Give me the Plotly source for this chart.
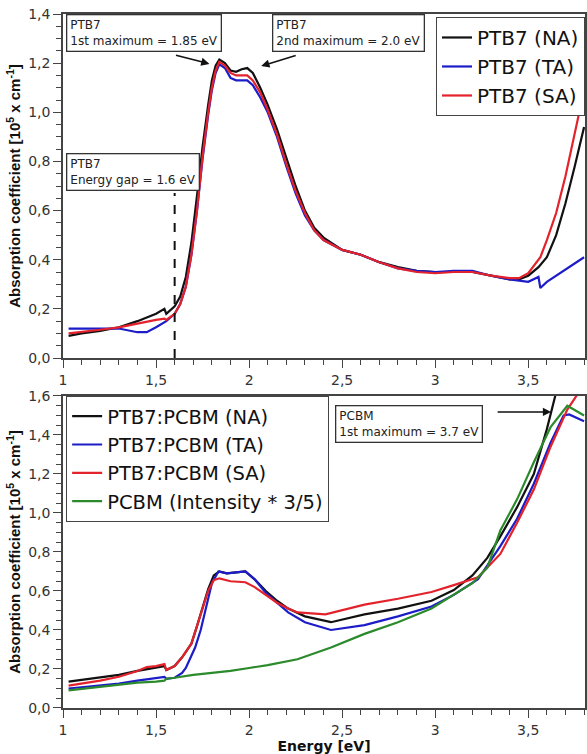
import plotly.graph_objects as go

# ---------------- Top panel: PTB7 films ----------------
E_top = [1.03, 1.1, 1.2, 1.3, 1.4, 1.45, 1.5, 1.545, 1.555, 1.6, 1.63, 1.66, 1.69, 1.72, 1.75,
         1.78, 1.8, 1.82, 1.84, 1.87, 1.9, 1.93, 1.96, 1.99, 2.02, 2.06, 2.1, 2.15, 2.2, 2.25,
         2.3, 2.35, 2.4, 2.5, 2.6, 2.7, 2.8, 2.9, 3.0, 3.1, 3.2, 3.3, 3.4, 3.45, 3.5, 3.555,
         3.565, 3.6, 3.65, 3.7, 3.75, 3.8]

ptb7_na = [0.09, 0.10, 0.11, 0.125, 0.15, 0.165, 0.18, 0.20, 0.18, 0.21, 0.25, 0.33, 0.47, 0.66, 0.86,
           1.03, 1.13, 1.19, 1.215, 1.20, 1.17, 1.165, 1.175, 1.18, 1.16, 1.10, 1.03, 0.93, 0.81, 0.70,
           0.60, 0.53, 0.49, 0.44, 0.42, 0.39, 0.37, 0.355, 0.35, 0.35, 0.35, 0.335, 0.32, 0.32, 0.335, 0.37,
           0.38, 0.41, 0.50, 0.63, 0.78, 0.94]

ptb7_ta = [0.12, 0.12, 0.12, 0.12, 0.105, 0.105, 0.125, 0.145, 0.15, 0.18, 0.22, 0.29, 0.42, 0.60, 0.81,
           0.99, 1.09, 1.16, 1.195, 1.18, 1.14, 1.13, 1.13, 1.13, 1.11, 1.06, 1.00, 0.90, 0.78, 0.67,
           0.58, 0.52, 0.48, 0.44, 0.42, 0.39, 0.365, 0.355, 0.35, 0.355, 0.355, 0.335, 0.32, 0.315, 0.31, 0.33,
           0.285, 0.31, 0.335, 0.36, 0.385, 0.41]

ptb7_sa = [0.10, 0.105, 0.115, 0.125, 0.14, 0.15, 0.155, 0.16, 0.155, 0.18, 0.22, 0.29, 0.42, 0.60, 0.82,
           1.00, 1.10, 1.17, 1.205, 1.19, 1.16, 1.15, 1.15, 1.15, 1.13, 1.08, 1.01, 0.91, 0.79, 0.68,
           0.59, 0.52, 0.48, 0.44, 0.42, 0.39, 0.365, 0.35, 0.345, 0.35, 0.35, 0.335, 0.325, 0.325, 0.345, 0.40,
           0.41, 0.48, 0.59, 0.74, 0.91, 1.09]

# ---------------- Bottom panel: PTB7:PCBM blends + PCBM ----------------
E_blend_na = [1.03, 1.2, 1.3, 1.4, 1.5, 1.545, 1.555, 1.6, 1.64, 1.69, 1.72, 1.745, 1.78, 1.81, 1.84,
              1.88, 1.93, 1.98, 2.03, 2.09, 2.15, 2.21, 2.3, 2.44, 2.62, 2.8, 2.98, 3.1, 3.2, 3.28,
              3.35, 3.44, 3.53, 3.6, 3.645, 3.7]
blend_na = [0.135, 0.155, 0.17, 0.19, 0.205, 0.215, 0.195, 0.215, 0.26, 0.33, 0.42, 0.50, 0.61, 0.68, 0.70,
            0.69, 0.695, 0.70, 0.66, 0.60, 0.55, 0.51, 0.47, 0.44, 0.48, 0.51, 0.55, 0.605, 0.68, 0.77,
            0.88, 1.03, 1.20, 1.43, 1.60, 1.80]

E_blend_ta = [1.03, 1.2, 1.3, 1.4, 1.5, 1.545, 1.555, 1.6, 1.64, 1.66, 1.71, 1.74, 1.765, 1.8, 1.835,
              1.88, 1.93, 1.98, 2.03, 2.09, 2.15, 2.21, 2.3, 2.44, 2.62, 2.8, 2.98, 3.1, 3.23, 3.35,
              3.44, 3.53, 3.62, 3.69, 3.72, 3.8]
blend_ta = [0.10, 0.115, 0.125, 0.14, 0.155, 0.16, 0.15, 0.155, 0.18, 0.205, 0.31, 0.40, 0.50, 0.64, 0.70,
            0.69, 0.695, 0.70, 0.66, 0.59, 0.54, 0.49, 0.44, 0.40, 0.425, 0.47, 0.52, 0.58, 0.66, 0.83,
            0.97, 1.15, 1.36, 1.50, 1.505, 1.47]

E_blend_sa = [1.03, 1.2, 1.3, 1.4, 1.45, 1.5, 1.545, 1.555, 1.6, 1.64, 1.69, 1.72, 1.745, 1.78, 1.81,
              1.84, 1.9, 1.98, 2.03, 2.09, 2.15, 2.21, 2.26, 2.41, 2.62, 2.8, 2.98, 3.1, 3.23, 3.35,
              3.44, 3.53, 3.62, 3.71, 3.76, 3.8]
blend_sa = [0.115, 0.14, 0.16, 0.19, 0.21, 0.215, 0.225, 0.195, 0.215, 0.26, 0.33, 0.42, 0.50, 0.60, 0.655,
            0.665, 0.65, 0.645, 0.62, 0.58, 0.54, 0.51, 0.49, 0.48, 0.53, 0.56, 0.595, 0.63, 0.67, 0.79,
            0.95, 1.12, 1.34, 1.53, 1.60, 1.66]

E_pcbm = [1.03, 1.2, 1.3, 1.4, 1.5, 1.545, 1.555, 1.6, 1.7, 1.8, 1.9, 2.0, 2.1, 2.26, 2.44,
          2.62, 2.8, 2.98, 3.1, 3.2, 3.28, 3.35, 3.44, 3.53, 3.62, 3.71, 3.8]
pcbm = [0.09, 0.11, 0.12, 0.13, 0.135, 0.14, 0.15, 0.155, 0.17, 0.18, 0.19, 0.205, 0.22, 0.25, 0.31,
        0.38, 0.44, 0.51, 0.58, 0.64, 0.72, 0.91, 1.07, 1.26, 1.44, 1.55, 1.50]

top_names = ["PTB7 (NA)", "PTB7 (TA)", "PTB7 (SA)"]
bottom_names = ["PTB7:PCBM (NA)", "PTB7:PCBM (TA)", "PTB7:PCBM (SA)", "PCBM (Intensity * 3/5)"]
x_tick_vals = [1, 1.5, 2, 2.5, 3, 3.5]
x_tick_text = ["1", "1,5", "2", "2,5", "3", "3,5"]

BLACK = "#111111"
BLUE = "#1c1cc8"
RED = "#e3222b"
GREEN = "#2b8a2b"
AX = "#444444"
FONT = "DejaVu Sans, Verdana, sans-serif"
TFONT = "Liberation Sans, Arial, Helvetica, sans-serif"

fig = go.Figure()

for y, name, col in zip([ptb7_na, ptb7_ta, ptb7_sa], top_names, [BLACK, BLUE, RED]):
    fig.add_trace(go.Scatter(x=E_top, y=y, name=name, mode="lines",
                             line=dict(color=col, width=2.2), xaxis="x", yaxis="y",
                             legend="legend"))

for xs, y, name, col in zip([E_blend_na, E_blend_ta, E_blend_sa, E_pcbm],
                            [blend_na, blend_ta, blend_sa, pcbm], bottom_names,
                            [BLACK, BLUE, RED, GREEN]):
    fig.add_trace(go.Scatter(x=xs, y=y, name=name, mode="lines",
                             line=dict(color=col, width=2.2), xaxis="x2", yaxis="y2",
                             legend="legend2"))

ytitle = "Absorption coefficient [10<sup>5</sup> x cm<sup>-1</sup>]"

def xaxis(anchor, title=None):
    d = dict(anchor=anchor, domain=[0, 1], range=[1, 3.805],
             tickmode="array", tickvals=x_tick_vals, ticktext=x_tick_text,
             ticks="outside", ticklen=8, tickwidth=1.3, tickcolor=AX,
             minor=dict(dtick=0.1, tick0=1, ticks="outside", ticklen=5, tickwidth=1.1, tickcolor=AX),
             showline=True, linecolor=AX, linewidth=1.5, mirror=True,
             showgrid=False, zeroline=False,
             tickfont=dict(size=14, color="#333333", family=FONT))
    if title:
        d["title"] = dict(text=title, font=dict(size=14, color="#111111", family=FONT), standoff=0)
    return d

def yaxis(domain, rng, anchor):
    return dict(anchor=anchor, domain=domain, range=rng,
                dtick=0.2, tick0=0, tickformat=".1f",
                ticks="outside", ticklen=8, tickwidth=1.3, tickcolor=AX,
                minor=dict(dtick=0.05, tick0=0, ticks="outside", ticklen=5, tickwidth=1.1, tickcolor=AX),
                showline=True, linecolor=AX, linewidth=1.5, mirror=True,
                showgrid=False, zeroline=False,
                tickfont=dict(size=14, color="#333333", family=FONT),
                title=dict(text="<b>" + ytitle + "</b>", standoff=4,
                           font=dict(size=15, color="#111111", family=TFONT)))

fig.update_layout(
    width=587, height=754,
    margin=dict(l=63, r=0, t=14, b=46),
    paper_bgcolor="white", plot_bgcolor="white",
    separators=",.",
    font=dict(family=FONT, color="#222222"),
    xaxis=xaxis("y"),
    yaxis=yaxis([0.5043, 1.0], [0, 1.4], "x"),
    xaxis2=xaxis("y2", "<b>Energy [eV]</b>"),
    yaxis2=yaxis([0.0, 0.4496], [0, 1.6], "x2"),
    legend=dict(x=1.0, xanchor="right", y=0.9957, yanchor="top",
                bgcolor="white", bordercolor=AX, borderwidth=1,
                font=dict(size=20, color="#111111", family=FONT), itemwidth=30,
                tracegroupgap=0),
    legend2=dict(x=0.006, xanchor="left", y=0.4496, yanchor="top",
                 bgcolor="white", bordercolor=AX, borderwidth=1,
                 font=dict(size=19.5, color="#111111", family=FONT), itemwidth=30,
                 tracegroupgap=0),
    showlegend=True,
)

box = dict(showarrow=False, align="left", xanchor="left", yanchor="top",
           bgcolor="white", bordercolor="#333333", borderwidth=1.3, borderpad=3,
           font=dict(size=12, color="#222222", family=FONT))

fig.add_annotation(x=1.016, y=1.40, xref="x", yref="y",
                   text="PTB7<br>1st maximum = 1.85 eV", **box)
fig.add_annotation(x=2.124, y=1.40, xref="x", yref="y",
                   text="PTB7<br>2nd maximum = 2.0 eV", **box)
fig.add_annotation(x=1.016, y=0.834, xref="x", yref="y",
                   text="PTB7<br>Energy gap = 1.6 eV", **box)
fig.add_annotation(x=2.461, y=1.554, xref="x2", yref="y2",
                   text="PCBM<br>1st maximum = 3.7 eV", **box)

arrow = dict(text="", showarrow=True, arrowhead=2, arrowsize=1.1, arrowwidth=1.5,
             arrowcolor="#111111", standoff=0)
fig.add_annotation(x=1.787, y=1.197, xref="x", yref="y", ax=-35, ay=-9, **arrow)
fig.add_annotation(x=2.065, y=1.188, xref="x", yref="y", ax=36, ay=-11, **arrow)
fig.add_annotation(x=3.623, y=1.518, xref="x2", yref="y2", ax=-55, ay=0, **arrow)

# Energy-gap marker
fig.add_shape(type="line", x0=1.6, x1=1.6, y0=0, y1=0.672, xref="x", yref="y",
              line=dict(color="#111111", width=2, dash="dash"))

fig.write_html("out.html", config={"displayModeBar": False},
               post_script="document.body.style.margin='0';document.body.style.overflow='hidden';")
